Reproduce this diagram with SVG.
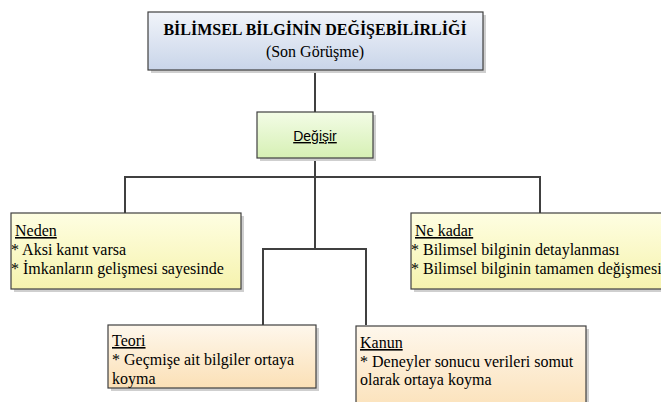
<svg xmlns="http://www.w3.org/2000/svg" width="661" height="402" viewBox="0 0 661 402">
<defs>
<linearGradient id="gBlue" x1="0" y1="0" x2="0" y2="1"><stop offset="0" stop-color="#f1f4fa"/><stop offset="1" stop-color="#c9d5e9"/></linearGradient>
<linearGradient id="gGreen" x1="0" y1="0" x2="0" y2="1"><stop offset="0" stop-color="#f3fce6"/><stop offset="1" stop-color="#d6f0b4"/></linearGradient>
<linearGradient id="gYellow" x1="0" y1="0" x2="0" y2="1"><stop offset="0" stop-color="#fefee2"/><stop offset="1" stop-color="#f6f3ae"/></linearGradient>
<linearGradient id="gOrange" x1="0" y1="0" x2="0" y2="1"><stop offset="0" stop-color="#fef7ec"/><stop offset="1" stop-color="#fbe0b6"/></linearGradient>
</defs>
<style>
.box{stroke:#404040;stroke-width:1.2}
.shadow{fill:#cfcfcf}
.conn{fill:none;stroke:#404040;stroke-width:2}
.tm{font-family:'Liberation Serif','Times New Roman',serif;font-size:16px;fill:#000}
.tb{font-family:'Liberation Serif','Times New Roman',serif;font-size:16px;font-weight:bold;fill:#000}
.ca{font-family:'Liberation Sans',Arial,sans-serif;font-size:14px;fill:#000}
.u{text-decoration:underline}
</style>
<rect width="661" height="402" fill="#fff"/>
<g id="connectors">
<path class="conn" d="M315 70 V112"/>
<path class="conn" d="M315 158 V249"/>
<path class="conn" d="M125 213 V177 H540 V213"/>
<path class="conn" d="M263 325 V249 H366 V325"/>
</g>
<g id="node-title">
<rect class="shadow" x="151" y="15" width="335" height="58"/>
<rect class="box" x="148" y="12" width="335" height="58" fill="url(#gBlue)"/>
<text class="tb" x="315" y="35" text-anchor="middle">BİLİMSEL BİLGİNİN DEĞİŞEBİLİRLİĞİ</text>
<text class="tm" x="315" y="57" text-anchor="middle">(Son Görüşme)</text>
</g>
<g id="node-degisir">
<rect class="shadow" x="260" y="115" width="116" height="46"/>
<rect class="box" x="257" y="112" width="116" height="46" fill="url(#gGreen)"/>
<text class="ca u" x="315" y="141" text-anchor="middle">Değişir</text>
</g>
<g id="node-neden">
<rect class="shadow" x="14" y="216" width="230" height="76"/>
<rect class="box" x="11" y="213" width="230" height="76" fill="url(#gYellow)"/>
<text class="tm u" x="15" y="236">Neden</text>
<text class="tm" x="11" y="255">* Aksi kanıt varsa</text>
<text class="tm" x="11" y="274">* İmkanların gelişmesi sayesinde</text>
</g>
<g id="node-nekadar">
<rect class="shadow" x="414" y="216" width="260" height="76"/>
<rect class="box" x="411" y="213" width="260" height="76" fill="url(#gYellow)"/>
<text class="tm u" x="415" y="236">Ne kadar</text>
<text class="tm" x="411" y="255">* Bilimsel bilginin detaylanması</text>
<text class="tm" x="411" y="274">* Bilimsel bilginin tamamen değişmesi</text>
</g>
<g id="node-teori">
<rect class="shadow" x="111" y="328" width="208" height="63"/>
<rect class="box" x="108" y="325" width="208" height="63" fill="url(#gOrange)"/>
<text class="tm u" x="112" y="346">Teori</text>
<text class="tm" x="112" y="365">* Geçmişe ait bilgiler ortaya</text>
<text class="tm" x="112" y="384">koyma</text>
</g>
<g id="node-kanun">
<rect class="shadow" x="359" y="329" width="230" height="90"/>
<rect class="box" x="356" y="326" width="230" height="90" fill="url(#gOrange)"/>
<text class="tm u" x="360" y="348">Kanun</text>
<text class="tm" x="360" y="367">* Deneyler sonucu verileri somut</text>
<text class="tm" x="360" y="385">olarak ortaya koyma</text>
</g>
</svg>
